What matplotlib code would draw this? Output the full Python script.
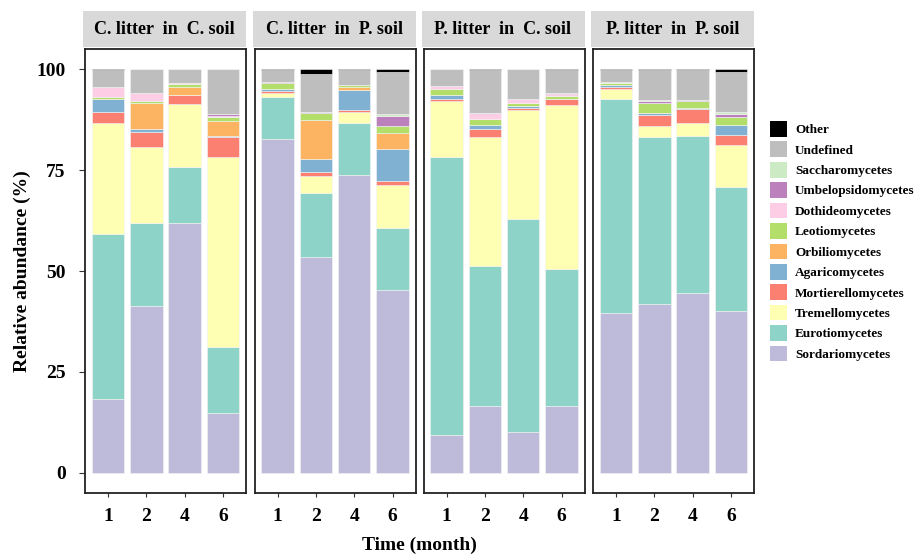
import matplotlib
matplotlib.use("Agg")
import matplotlib.pyplot as plt
from matplotlib.patches import Patch, Rectangle
import numpy as np

plt.rcParams['font.family'] = ['Liberation Serif', 'DejaVu Serif']
plt.rcParams['font.weight'] = 'bold'

treatments = ["C. litter  in  C. soil", "C. litter  in  P. soil",
              "P. litter  in  C. soil", "P. litter  in  P. soil"]
months = ["1", "2", "4", "6"]

# segment sizes (%), 4 months per treatment, treatments in order above
Sordariomycetes    = [18.4, 41.3, 61.9, 14.8,  82.7, 53.5, 73.9, 45.4,   9.3, 16.5, 10.2, 16.5,  39.5, 41.8, 44.6, 40.1]
Eurotiomycetes     = [40.7, 20.6, 13.9, 16.4,  10.3, 15.8, 12.7, 15.3,  68.9, 34.8, 52.6, 34.0,  53.1, 41.4, 38.8, 30.8]
Tremellomycetes    = [27.5, 18.8, 15.5, 47.1,   1.0,  4.3,  2.9, 10.7,  13.9, 32.0, 27.2, 40.7,   2.5,  2.6,  3.3, 10.3]
Mortierellomycetes = [ 2.9,  3.8,  2.4,  4.9,   0.5,  0.9,  0.4,  0.8,   0.4,  1.9,  0.5,  1.4,   0.6,  2.9,  3.4,  2.4]
Agaricomycetes     = [ 3.1,  0.8,  0.0,  0.3,   0.6,  3.3,  5.0,  8.0,   1.2,  1.0,  0.5,  0.0,   0.3,  0.5,  0.4,  2.6]
Orbiliomycetes     = [ 0.0,  6.3,  1.8,  3.6,   0.0,  9.6,  0.6,  3.9,   0.0,  0.0,  0.0,  0.0,   0.0,  0.0,  0.0,  0.0]
Leotiomycetes      = [ 0.6,  0.5,  0.9,  1.1,   1.4,  1.7,  0.6,  1.7,   1.3,  1.4,  0.7,  0.8,   0.5,  2.3,  1.5,  2.0]
Dothideomycetes    = [ 2.5,  1.9,  0.3,  0.2,   0.0,  0.0,  0.0,  0.0,   0.9,  1.5,  0.9,  0.4,   0.0,  0.0,  0.0,  0.0]
Umbelopsidomycetes = [ 0.0,  0.2,  0.0,  0.4,   0.4,  0.4,  0.0,  2.5,   0.0,  0.0,  0.0,  0.4,   0.0,  0.6,  0.4,  0.6]
Saccharomycetes    = [ 0.0,  0.0,  0.0,  0.0,   0.0,  0.0,  0.0,  0.5,   0.0,  0.0,  0.0,  0.0,   0.4,  0.3,  0.0,  0.5]
Undefined          = [ 4.0,  5.8,  3.3, 11.2,   2.8,  9.3,  3.6, 10.5,   4.1, 10.6,  7.4,  5.5,   2.8,  7.3,  7.3, 10.1]
Other              = [ 0.3,  0.0,  0.0,  0.0,   0.3,  1.2,  0.3,  0.7,   0.0,  0.3,  0.0,  0.3,   0.3,  0.3,  0.3,  0.6]

classes = ["Sordariomycetes", "Eurotiomycetes", "Tremellomycetes", "Mortierellomycetes",
           "Agaricomycetes", "Orbiliomycetes", "Leotiomycetes", "Dothideomycetes",
           "Umbelopsidomycetes", "Saccharomycetes", "Undefined", "Other"]
values = [Sordariomycetes, Eurotiomycetes, Tremellomycetes, Mortierellomycetes,
          Agaricomycetes, Orbiliomycetes, Leotiomycetes, Dothideomycetes,
          Umbelopsidomycetes, Saccharomycetes, Undefined, Other]
colors = ["#BEBADA", "#8DD3C7", "#FFFFB3", "#FB8072", "#80B1D3", "#FDB462",
          "#B3DE69", "#FCCDE5", "#BC80BD", "#CCEBC5", "#BEBEBE", "#000000"]

W, H = 924, 556
fig = plt.figure(figsize=(W / 100, H / 100), dpi=100)

lefts = [85, 254.5, 423.5, 593]
pw = 161
ptop, pbot = 49, 493
strip_top, strip_bot = 11, 47

x = np.arange(len(months))
for i, tr in enumerate(treatments):
    ax = fig.add_axes([lefts[i] / W, (H - pbot) / H, pw / W, (pbot - ptop) / H])
    bottom = np.zeros(len(months))
    for name, vals, col in zip(classes, values, colors):
        v = np.array(vals[i * 4:(i + 1) * 4])
        ax.bar(x, v, width=0.85, bottom=bottom, color=col, edgecolor='#F4F4F4',
               linewidth=0.4)
        bottom += v
    ax.set_xlim(-0.6, 3.6)
    ax.set_ylim(-5, 105)
    ax.set_xticks(x)
    ax.set_xticklabels(months, fontsize=14, fontweight='bold')
    ax.tick_params(axis='x', length=3, width=0.8, color='#333333', pad=8)
    if i == 0:
        ax.set_yticks([0, 25, 50, 75, 100])
        ax.set_yticklabels(["0", "25", "50", "75", "100"], fontsize=14, fontweight='bold')
        ax.tick_params(axis='y', length=4, width=0.8, color='#333333', pad=10)
    else:
        ax.set_yticks([])
    for s in ax.spines.values():
        s.set_linewidth(1.3)
        s.set_color('#222222')
    # strip
    sax = fig.add_axes([lefts[i] / W - 2 / W, (H - strip_bot) / H, (pw + 2) / W,
                        (strip_bot - strip_top) / H])
    sax.set_facecolor('#D9D9D9')
    sax.set_xticks([]); sax.set_yticks([])
    for s in sax.spines.values():
        s.set_visible(False)
    sax.text(0.5, 0.5, tr, ha='center', va='center', fontsize=13, fontweight='bold',
             transform=sax.transAxes)

fig.text(22 / W, 0.5 * ((H - ptop) + (H - pbot)) / H, "Relative abundance (%)",
         rotation=90, ha='center', va='center', fontsize=14, fontweight='bold')
fig.text(0.5 * (lefts[0] + lefts[3] + pw) / W, (H - 545) / H, "Time (month)",
         ha='center', va='center', fontsize=14, fontweight='bold')

handles = [Patch(facecolor=c, edgecolor='none', label=n)
           for n, c in zip(classes[::-1], colors[::-1])]
fig.legend(handles=handles, loc='upper left', bbox_to_anchor=(770 / W, (H - 121) / H),
           frameon=False, handlelength=1.3, handleheight=1.45,
           handletextpad=0.6, labelspacing=0.36, borderaxespad=0, borderpad=0,
           prop={'weight': 'bold', 'size': 9.5})

fig.savefig("out.png", dpi=100)
